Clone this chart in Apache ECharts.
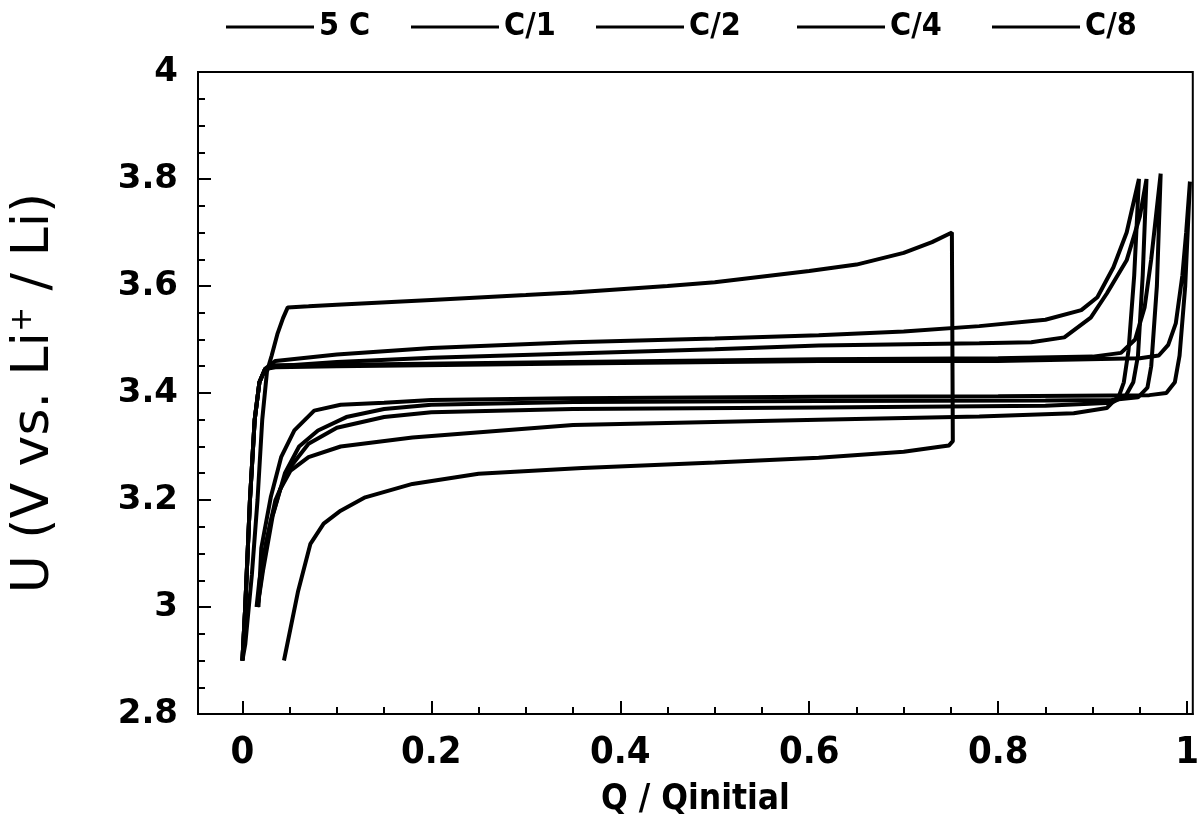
<!DOCTYPE html>
<html>
<head>
<meta charset="utf-8">
<script src="https://cdn.jsdelivr.net/npm/echarts@6/dist/echarts.min.js"></script>
<style>html,body{margin:0;padding:0;background:#fff}#c{width:1202px;height:824px}</style>
</head>
<body>
<div id="c"></div>
<script>
// ---- data ----
const rateNames = ['5 C', 'C/1', 'C/2', 'C/4', 'C/8'];
const xTickValues = [0, 0.2, 0.4, 0.6, 0.8, 1];
const xMinorTickValues = [0.05,0.1,0.15,0.25,0.3,0.35,0.45,0.5,0.55,0.65,0.7,0.75,0.85,0.9,0.95];

const q_5C = [0.000,0.003,0.010,0.016,0.021,0.026,0.031,0.037,0.043,0.048,0.07,0.10,0.20,0.30,0.35,0.45,0.50,0.60,0.65,0.70,0.73,0.751,0.752,0.748,0.740,0.70,0.61,0.50,0.36,0.25,0.18,0.13,0.104,0.086,0.072,0.059,0.044];
const u_5C = [2.90,2.93,3.06,3.20,3.35,3.44,3.47,3.51,3.54,3.56,3.562,3.565,3.574,3.583,3.588,3.600,3.607,3.628,3.640,3.662,3.682,3.700,3.310,3.302,3.300,3.290,3.279,3.270,3.260,3.249,3.230,3.205,3.180,3.156,3.118,3.030,2.900];

const q_C1 = [0.000,0.003,0.008,0.013,0.018,0.024,0.035,0.10,0.20,0.35,0.50,0.61,0.70,0.78,0.85,0.888,0.905,0.922,0.936,0.949,0.944,0.938,0.933,0.928,0.915,0.88,0.78,0.61,0.35,0.18,0.104,0.07,0.051,0.040,0.030,0.022,0.016];
const u_C1 = [2.90,3.00,3.20,3.35,3.42,3.445,3.46,3.472,3.484,3.495,3.502,3.508,3.515,3.525,3.537,3.555,3.579,3.635,3.700,3.800,3.62,3.48,3.42,3.395,3.372,3.362,3.356,3.350,3.340,3.317,3.300,3.280,3.255,3.220,3.160,3.080,3.000];

const q_C2 = [0.000,0.003,0.008,0.013,0.018,0.024,0.035,0.10,0.20,0.35,0.50,0.61,0.78,0.835,0.87,0.898,0.915,0.936,0.950,0.957,0.953,0.948,0.943,0.935,0.92,0.85,0.61,0.35,0.20,0.15,0.10,0.07,0.05,0.035,0.025,0.018,0.015];
const u_C2 = [2.90,3.00,3.20,3.35,3.42,3.445,3.450,3.458,3.466,3.474,3.482,3.489,3.493,3.495,3.504,3.541,3.586,3.648,3.730,3.800,3.62,3.47,3.42,3.395,3.382,3.376,3.373,3.370,3.364,3.355,3.335,3.305,3.26,3.20,3.12,3.05,3.00];

const q_C4 = [0.000,0.003,0.008,0.013,0.018,0.024,0.035,0.10,0.35,0.61,0.80,0.90,0.93,0.945,0.955,0.962,0.967,0.972,0.968,0.962,0.958,0.948,0.92,0.85,0.61,0.35,0.20,0.15,0.11,0.08,0.06,0.045,0.032,0.022,0.016];
const u_C4 = [2.90,3.00,3.20,3.35,3.42,3.445,3.452,3.453,3.458,3.463,3.465,3.468,3.475,3.50,3.56,3.65,3.73,3.81,3.60,3.45,3.41,3.392,3.387,3.386,3.385,3.383,3.378,3.370,3.355,3.330,3.300,3.250,3.170,3.070,3.000];

const q_C8 = [0.000,0.003,0.008,0.013,0.018,0.024,0.035,0.10,0.35,0.61,0.80,0.95,0.97,0.98,0.988,0.995,0.999,1.003,0.998,0.992,0.987,0.978,0.96,0.80,0.61,0.35,0.20,0.15,0.104,0.076,0.055,0.041,0.030,0.020,0.017];
const u_C8 = [2.90,3.00,3.20,3.35,3.42,3.445,3.448,3.450,3.455,3.460,3.460,3.465,3.470,3.490,3.530,3.620,3.700,3.795,3.60,3.47,3.42,3.40,3.396,3.394,3.393,3.390,3.387,3.382,3.378,3.367,3.330,3.280,3.205,3.110,3.000];

const seriesQ = [q_5C, q_C1, q_C2, q_C4, q_C8];
const seriesU = [u_5C, u_C1, u_C2, u_C4, u_C8];

// ---- chart ----
const narrow = "'Liberation Sans Narrow', 'DejaVu Sans Condensed', 'Liberation Sans', sans-serif";
const legendLeft = [221, 406, 591, 792, 987];

const chart = echarts.init(document.getElementById('c'), null, {renderer: 'canvas'});
chart.setOption({
  animation: false,
  backgroundColor: '#fff',
  grid: {left: 196, right: 2, top: 72, bottom: 110, show: true, borderColor: '#000', borderWidth: 2, backgroundColor: 'transparent'},
  legend: rateNames.map((n, i) => ({
    data: [n], left: legendLeft[i], top: 6, icon: 'rect', itemWidth: 88, itemHeight: 3,
    selectedMode: false,
    textStyle: {fontFamily: narrow, fontWeight: 'bold', fontSize: 32, color: '#000'}
  })),
  xAxis: [{
    type: 'value', min: -0.047, max: 1.006, position: 'bottom',
    name: 'Q / Qinitial', nameLocation: 'middle', nameGap: 68,
    nameTextStyle: {fontFamily: narrow, fontWeight: 'bold', fontSize: 35, color: '#000'},
    axisLine: {show: true, onZero: false, lineStyle: {color: '#000', width: 2}},
    axisTick: {show: true, inside: true, length: 13, customValues: xTickValues, lineStyle: {color: '#000', width: 2}},
    axisLabel: {show: true, customValues: xTickValues, margin: 20, color: '#000', fontFamily: narrow, fontWeight: 'bold', fontSize: 38,
      formatter: v => String(v)},
    splitLine: {show: false}
  }, {
    type: 'value', min: -0.047, max: 1.006, position: 'bottom', offset: 0,
    axisLine: {show: false, onZero: false},
    axisTick: {show: true, inside: true, length: 7, customValues: xMinorTickValues, lineStyle: {color: '#000', width: 2}},
    axisLabel: {show: false},
    splitLine: {show: false}
  }],
  yAxis: {
    type: 'value', min: 2.8, max: 4.0, interval: 0.2,
    name: '{a|U (V vs. Li}{s|+}{a| / Li)}', nameLocation: 'middle', nameGap: 138, nameRotate: 90,
    nameTextStyle: {rich: {
      a: {fontFamily: "'DejaVu Sans', sans-serif", fontSize: 52, color: '#000'},
      s: {fontFamily: "'DejaVu Sans', sans-serif", fontSize: 30, color: '#000', verticalAlign: 'top', padding: [0, 0, 22, 0]}
    }},
    axisLine: {show: true, onZero: false, lineStyle: {color: '#000', width: 2}},
    axisTick: {show: true, inside: true, length: 13, lineStyle: {color: '#000', width: 2}},
    minorTick: {show: true, splitNumber: 4, length: 7, lineStyle: {color: '#000', width: 2}},
    axisLabel: {margin: 20, color: '#000', fontFamily: "'DejaVu Sans', sans-serif", fontWeight: 'bold', fontSize: 34,
      formatter: v => String(Math.round(v * 10) / 10)},
    splitLine: {show: false},
    minorSplitLine: {show: false}
  },
  series: rateNames.map((n, i) => ({
    name: n, type: 'line', xAxisIndex: 0, symbol: 'none', smooth: false,
    data: seriesQ[i].map((x, k) => [x, seriesU[i][k]]),
    lineStyle: {color: '#000', width: 4},
    itemStyle: {color: '#000'}
  }))
});
</script>
</body>
</html>
